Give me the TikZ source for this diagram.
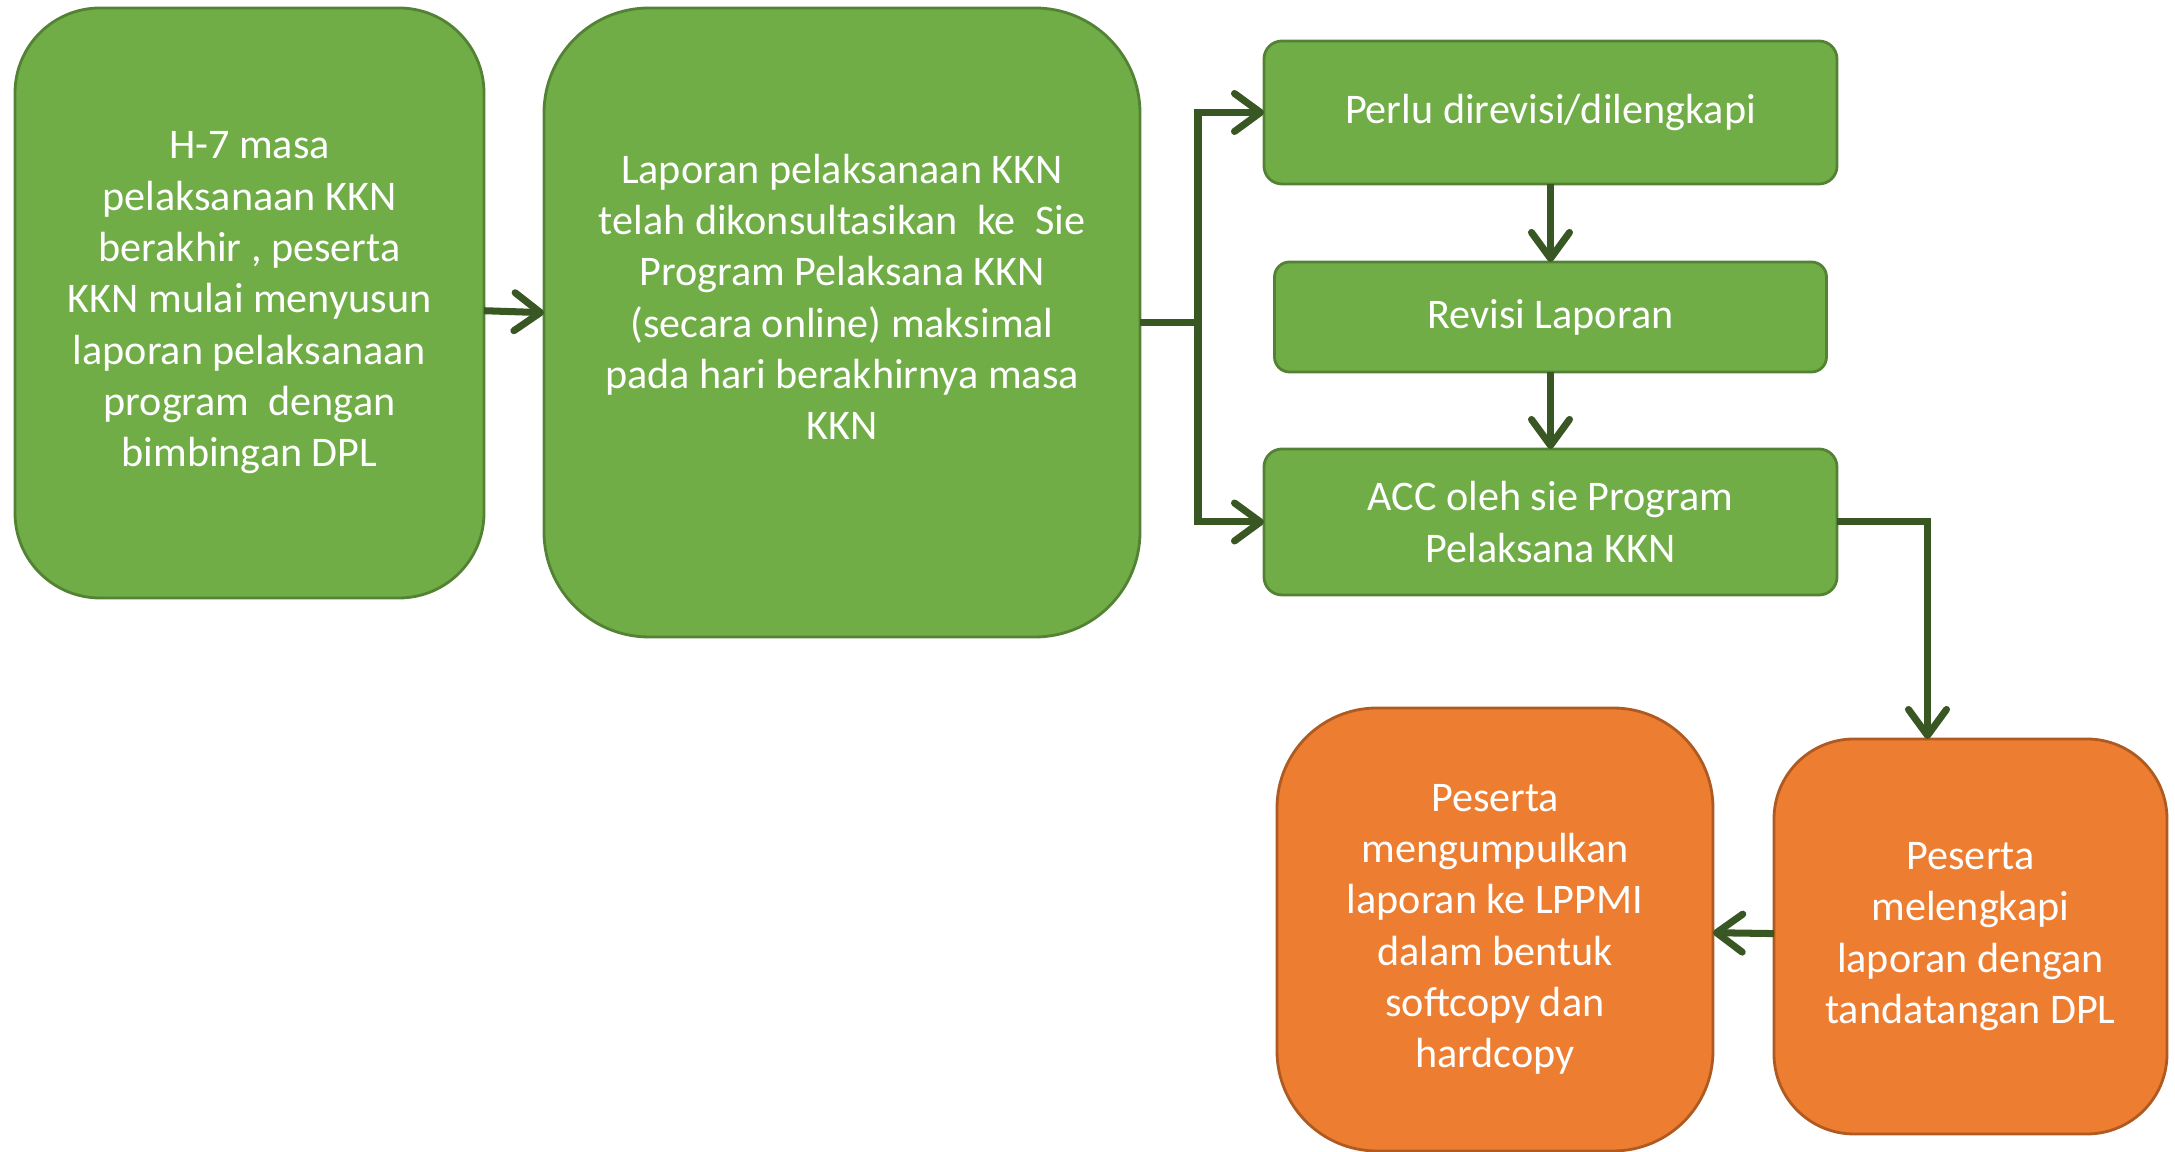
\documentclass[tikz,border=0pt]{standalone}
\usepackage{fontspec}
\setmainfont{Carlito}
\usepackage{xcolor}
\usepackage{tikz}
\usetikzlibrary{positioning}
\usetikzlibrary{arrows.meta}

\definecolor{boxgreen}{HTML}{70AD47}
\definecolor{boxgreenline}{HTML}{548235}
\definecolor{boxorange}{HTML}{ED7D31}
\definecolor{boxorangeline}{HTML}{AE5A21}
\definecolor{arrowgreen}{HTML}{385723}

\begin{document}
\begin{tikzpicture}[
      node distance=0.8cm and 0.6cm,
      box/.style={draw,rounded corners=#1,align=center,text=white,
        font=\fontsize{12pt}{14.6pt}\selectfont,line width=0.8pt,inner sep=2pt,outer sep=0pt},
      greenbox/.style={box=#1,fill=boxgreen,draw=boxgreenline},
      orangebox/.style={box=#1,fill=boxorange,draw=boxorangeline},
      flow/.style={line width=2pt,draw=arrowgreen,
        -{Straight Barb[length=0.26cm,width=0.38cm,round]}}
      ]

      \useasboundingbox (0,0) rectangle (21.75,11.52);

      \node[greenbox=0.85cm, minimum width=4.69cm, minimum height=5.90cm, anchor=north west]
        (h7) at (0.15,11.44) {H-7 masa\\pelaksanaan KKN\\berakhir , peserta\\KKN mulai menyusun\\laporan pelaksanaan\\program\ \ dengan\\bimbingan DPL};
      \node[greenbox=1.05cm, minimum width=5.96cm, minimum height=6.29cm,
        right=of h7.north east, anchor=north west]
        (lapor) {Laporan pelaksanaan KKN\\telah dikonsultasikan\ \ ke\ \ Sie\\Program Pelaksana KKN\\(secara online) maksimal\\pada hari berakhirnya masa\\KKN\\\mbox{}};

      \node[greenbox=0.18cm, minimum width=5.73cm, minimum height=1.43cm,
        right=1.24cm of lapor.north east, anchor=north west, yshift=-0.33cm]
        (perlu) {Perlu direvisi/dilengkapi};
      \node[greenbox=0.15cm, minimum width=5.52cm, minimum height=1.10cm, below=0.78cm of perlu]
        (revisi) {Revisi Laporan};
      \node[greenbox=0.18cm, minimum width=5.73cm, minimum height=1.46cm, below=0.77cm of revisi]
        (acc) {ACC oleh sie Program\\Pelaksana KKN};

      \node[orangebox=0.8cm, minimum width=3.93cm, minimum height=3.95cm, anchor=north west]
        (lengkap) at (17.74,4.13) {Peserta\\melengkapi\\laporan dengan\\tandatangan DPL};
      \node[orangebox=1.0cm, minimum width=4.36cm, minimum height=4.43cm,
        left=0.61cm of lengkap.north west, anchor=north east, yshift=0.31cm]
        (kumpul) {Peserta\\mengumpulkan\\laporan ke LPPMI\\dalam bentuk\\softcopy dan\\hardcopy};

      \path (h7) edge[flow] (lapor)
      (perlu) edge[flow] (revisi)
      (revisi) edge[flow] (acc)
      (lengkap) edge[flow] (kumpul)
      ;
      \draw[flow] (lapor.east) -- ++(0.58,0) coordinate (cabang) |- (perlu.west);
      \draw[flow] (cabang) |- (acc.west);
      \draw[flow] (acc.east) -| ([xshift=-0.43cm]lengkap.north);

    \end{tikzpicture}
\end{document}
